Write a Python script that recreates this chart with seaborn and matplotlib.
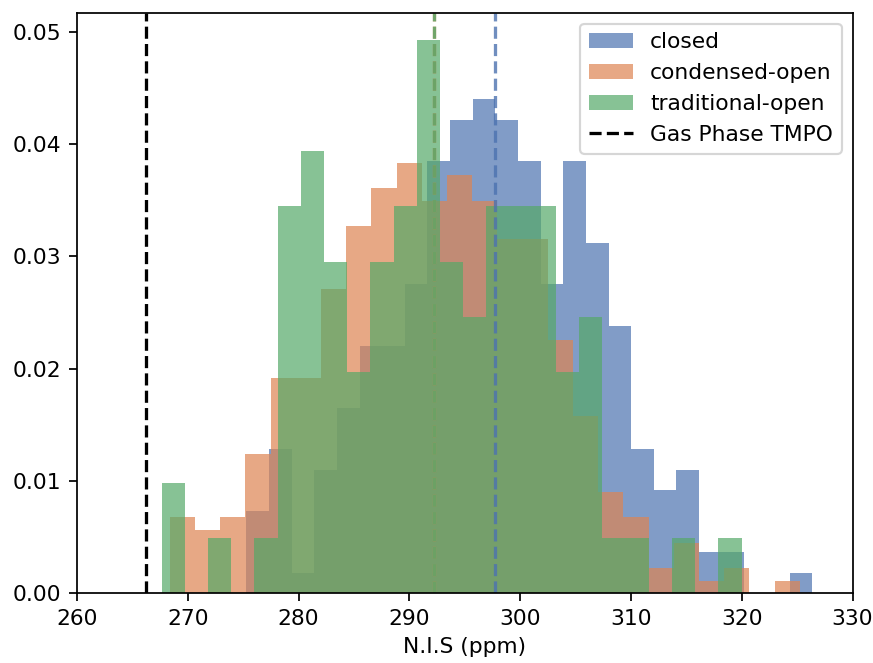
import numpy as np
import pandas as pd
import matplotlib
matplotlib.use("Agg")
import matplotlib.pyplot as plt
import seaborn as sns

# Per-bin counts (25 bins each) for the three conformer populations
closed_counts = [4, 7, 1, 6, 9, 12, 12, 15, 21, 23, 24, 23, 21, 15, 21, 17, 13, 7, 5, 6, 2, 2, 0, 0, 1]
condensed_counts = [6, 5, 6, 11, 17, 17, 24, 29, 32, 34, 31, 33, 31, 28, 28, 20, 14, 8, 6, 2, 4, 1, 2, 0, 1]
traditional_counts = [2, 0, 1, 0, 1, 7, 8, 6, 4, 6, 7, 10, 6, 5, 7, 7, 7, 4, 5, 1, 1, 0, 1, 0, 1]

# Data range (min, max) of each population, split into 25 equal bins
closed_range = (275.29, 326.37)
condensed_range = (268.39, 325.25)
traditional_range = (267.65, 320.00)

# Population means and the gas-phase reference shift (ppm)
closed_mean = 297.74
condensed_mean = 292.23
traditional_mean = 292.27
gas_phase_tmpo = 266.2

labels = ["closed", "condensed-open", "traditional-open"]
n_bins = 25

palette = sns.color_palette("deep")
colors = [palette[0], palette[1], palette[2]]

DPI = 157
fig = plt.figure(figsize=(873 / DPI, 663 / DPI), dpi=DPI)
ax = fig.add_axes([76.9 / 873, 1 - 593.3 / 663, (852.5 - 76.9) / 873, (593.3 - 12.7) / 663])

series = [
    (closed_counts, closed_range, closed_mean),
    (condensed_counts, condensed_range, condensed_mean),
    (traditional_counts, traditional_range, traditional_mean),
]

for (counts, rng, mean), label, color in zip(series, labels, colors):
    edges = np.linspace(rng[0], rng[1], n_bins + 1)
    centers = (edges[:-1] + edges[1:]) / 2
    df = pd.DataFrame({"shift": centers, "count": counts})
    sns.histplot(data=df, x="shift", weights="count", bins=n_bins, binrange=rng,
                 stat="density", color=color, alpha=0.7, label=label, ax=ax,
                 linewidth=0)

for (counts, rng, mean), color in zip(series, colors):
    ax.axvline(mean, color=color, linestyle="--", alpha=0.8, linewidth=1.5)

ax.axvline(gas_phase_tmpo, color="black", linestyle="--", linewidth=1.5, label="Gas Phase TMPO")

ax.set_xlim(260, 330)
ax.set_xlabel("N.I.S (ppm)")
ax.set_ylabel("")

handles, hlabels = ax.get_legend_handles_labels()
order = labels + ["Gas Phase TMPO"]
lookup = dict(zip(hlabels, handles))
ax.legend([lookup[l] for l in order], order, loc="upper right")

fig.savefig("out.png", dpi=DPI)
